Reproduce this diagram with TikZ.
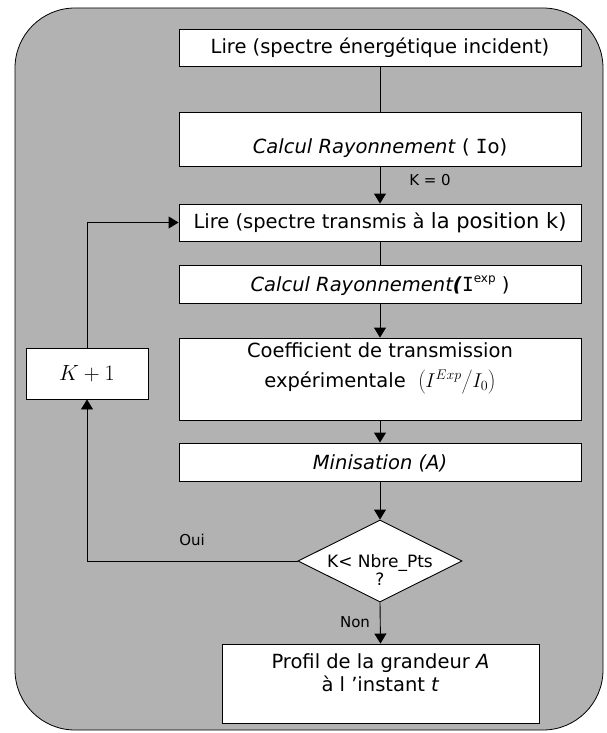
\documentclass[tikz,border=0pt]{standalone}
\usepackage{fix-cm}
\usepackage{fontspec}
\setmainfont{DejaVu Sans}
\setmonofont{DejaVu Sans Mono}
\usetikzlibrary{arrows.meta,shapes.geometric}
\begin{document}
\begin{tikzpicture}[x=1pt,y=-1pt,
  box/.style={draw=black, fill=white, line width=0.9pt, minimum width=402pt, inner sep=0pt},
  txt/.style={font=\fontsize{19.5}{23}\selectfont, align=center, inner sep=0pt},
  lbl/.style={font=\fontsize{15}{18}\selectfont, inner sep=0pt},
  conn/.style={line width=0.9pt},
  arr/.style={conn, -{Triangle[length=10pt,width=12pt]}}]

\useasboundingbox (0,0) rectangle (606,733);
\draw[fill=gray!60, line width=0.8pt, rounded corners=60pt] (15,8) rectangle (603,730);

% boxes
\node[box, minimum height=37pt] (b1) at (380,47.5) {};
\node[txt] (t1) at (380,47.5) {Lire (spectre énergétique incident)};

\node[box, minimum height=54pt] (b2) at (380,139) {};
\node[txt] (t2) at (380,148) {\textit{Calcul Rayonnement} ( {\ttfamily I}o)};

\node[box, minimum height=37pt] (b3) at (380,222.5) {};
\node[txt] (t3) at (380,222.5) {Lire (spectre transmis à {\fontsize{21}{23}\selectfont la position k)}};

\node[box, minimum height=38pt] (b4) at (380,284) {};
\node[txt] (t4) at (380,286) {\textit{Calcul Rayonnement\textbf{(}}{\ttfamily I}\raisebox{0.45em}{\fontsize{12}{14}\selectfont exp} )};

\node[box, minimum height=82pt] (b5) at (380,379) {};
\node[txt] (t5a) at (380,350) {Coefficient de transmission};
\node[txt, anchor=base] (t5b) at (380,387) {expérimentale \ {\fontsize{20}{24}\selectfont $\left(\vrule height 17pt depth 7pt width 0pt I^{Exp}\middle/I_0\right)$}};

\node[box, minimum height=38pt] (b6) at (380,462) {};
\node[txt] (t6) at (380,463) {\textit{Minisation (A)}};

\node[draw=black, fill=white, line width=0.9pt, diamond, minimum width=164pt, minimum height=82pt, inner sep=0pt] (d) at (380,561) {};
\node[txt, font=\fontsize{17}{18}\selectfont] (td) at (380,570) {K< Nbre\_Pts\\?};

\node[box, minimum width=317pt, minimum height=79pt] (fin) at (380.5,683.5) {};
\node[txt] (tf) at (380.5,673) {Profil de la grandeur \textit{A}\\à l 'instant \textit{t}};

\node[box, minimum width=122pt, minimum height=51pt] (kp) at (87,373.5) {\fontsize{22}{26}\selectfont $K+1$};

% connectors
\draw[conn] (b1) -- (b2);
\draw[arr] (b2) -- (b3);
\draw[conn] (b3) -- (b4);
\draw[arr] (b4) -- (b5);
\draw[arr] (b5) -- (b6);
\draw[arr] (b6) -- (d.north);
\draw[arr] (d.south) -- (fin.north);
\draw[arr] (d.west) -| (kp.south);
\draw[arr] (kp.north) |- (b3.west);

% labels
\node[lbl] (k0) at (430,180) {K = 0};
\node[lbl] (oui) at (192,540) {Oui};
\node[lbl] (non) at (355,622) {Non};
\end{tikzpicture}
\end{document}
